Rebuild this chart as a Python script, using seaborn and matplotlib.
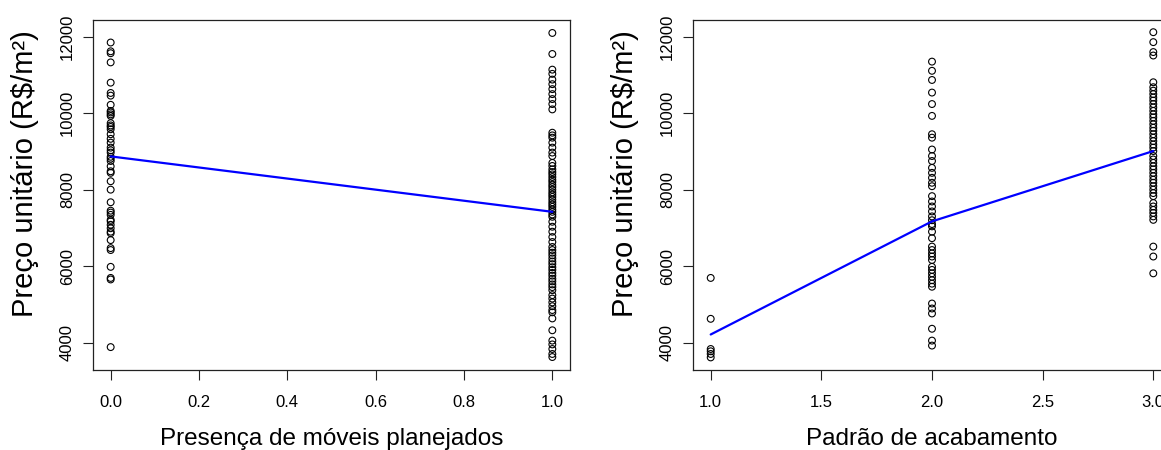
import matplotlib
matplotlib.use("Agg")
import matplotlib.pyplot as plt
import pandas as pd
import seaborn as sns

# Preço unitário (R$/m²) por presença de móveis planejados
preco_sem_moveis = [11850, 11620, 11570, 11330, 10800, 10530, 10460, 10220, 10060, 10020,
                    9970, 9930, 9740, 9680, 9640, 9580, 9450, 9330, 9230, 9100, 9030,
                    8970, 8860, 8810, 8750, 8610, 8480, 8440, 8220, 8000, 7670, 7450,
                    7400, 7340, 7210, 7170, 7080, 6990, 6900, 6860, 6680, 6470, 6420,
                    5980, 5690, 5650, 3880]
preco_com_moveis = [12100, 11550, 11140, 11030, 10880, 10760, 10630, 10500, 10370, 10240,
                    10100, 9490, 9420, 9360, 9230, 9100, 8970, 8880, 8700, 8620, 8530,
                    8460, 8400, 8330, 8260, 8200, 8130, 8070, 8000, 7930, 7870, 7810,
                    7740, 7670, 7610, 7550, 7480, 7420, 7350, 7290, 7160, 7030, 6900,
                    6760, 6630, 6500, 6420, 6350, 6280, 6200, 6120, 6050, 5970, 5900,
                    5820, 5750, 5670, 5600, 5520, 5450, 5370, 5240, 5150, 5050, 4950,
                    4850, 4790, 4630, 4320, 4050, 3950, 3830, 3700, 3620]

# Preço unitário por padrão de acabamento (1, 2, 3)
preco_padrao1 = [5690, 4620, 3830, 3770, 3700, 3610]
preco_padrao2 = [11350, 11110, 10870, 10540, 10240, 9930, 9450, 9360, 9050, 8880, 8750,
                 8570, 8440, 8310, 8180, 8090, 7830, 7690, 7560, 7430, 7300, 7200, 7100,
                 7040, 6900, 6730, 6510, 6420, 6330, 6250, 6160, 5980, 5900, 5810, 5720,
                 5630, 5540, 5460, 5020, 4890, 4760, 4360, 4050, 3920]
preco_padrao3 = [12120, 11860, 11600, 11510, 10810, 10680, 10590, 10500, 10410, 10330,
                 10240, 10150, 10060, 9970, 9890, 9800, 9710, 9620, 9540, 9450, 9360,
                 9270, 9180, 9100, 9010, 8880, 8790, 8700, 8610, 8530, 8440, 8350, 8260,
                 8180, 8090, 8000, 7910, 7830, 7650, 7560, 7470, 7390, 7300, 7210, 6510,
                 6250, 5810]

# valores ajustados (linha azul)
ajuste_moveis_x = [0, 1]
ajuste_moveis_y = [8870, 7420]
ajuste_padrao_x = [1, 2, 3]
ajuste_padrao_y = [4210, 7170, 9010]

ylabel = "Preço unitário (R$/m²)"


def main() -> None:
    moveis = pd.DataFrame({
        "x": [0] * len(preco_sem_moveis) + [1] * len(preco_com_moveis),
        "preco": preco_sem_moveis + preco_com_moveis,
    })
    padrao = pd.DataFrame({
        "x": [1] * len(preco_padrao1) + [2] * len(preco_padrao2) + [3] * len(preco_padrao3),
        "preco": preco_padrao1 + preco_padrao2 + preco_padrao3,
    })
    ajuste_moveis = pd.DataFrame({"x": ajuste_moveis_x, "preco": ajuste_moveis_y})
    ajuste_padrao = pd.DataFrame({"x": ajuste_padrao_x, "preco": ajuste_padrao_y})

    sns.set_style("white")
    plt.rcParams["font.family"] = ["Liberation Sans", "DejaVu Sans"]
    plt.rcParams["axes.edgecolor"] = "#222222"
    plt.rcParams["axes.labelcolor"] = "black"
    plt.rcParams["text.color"] = "black"
    plt.rcParams["xtick.color"] = "#222222"
    plt.rcParams["ytick.color"] = "#222222"
    plt.rcParams["xtick.labelcolor"] = "black"
    plt.rcParams["ytick.labelcolor"] = "black"

    fig = plt.figure(figsize=(11.61, 4.5), dpi=100)
    ax1 = fig.add_axes([93 / 1161, 80 / 450, 477 / 1161, 350 / 450])
    ax2 = fig.add_axes([693 / 1161, 80 / 450, 478 / 1161, 350 / 450])

    todos = moveis["preco"]
    lo, hi = todos.min(), todos.max()
    pad = 0.04 * (hi - lo)

    panels = [
        (ax1, moveis, ajuste_moveis, "Presença de móveis planejados",
         [0.0, 0.2, 0.4, 0.6, 0.8, 1.0]),
        (ax2, padrao, ajuste_padrao, "Padrão de acabamento",
         [1.0, 1.5, 2.0, 2.5, 3.0]),
    ]
    for ax, df, fit, xlabel, xticks in panels:
        sns.scatterplot(data=df, x="x", y="preco", ax=ax, marker="o",
                        facecolors="none", edgecolor="black", linewidth=0.8, s=24)
        sns.lineplot(data=fit, x="x", y="preco", ax=ax, color="#0000FF",
                     linewidth=1.6, estimator=None, sort=False)
        xmin, xmax = min(xticks), max(xticks)
        xr = xmax - xmin
        ax.set_xlim(xmin - 0.04 * xr, xmax + 0.04 * xr)
        ax.set_ylim(lo - pad, hi + pad)
        ax.set_xticks(xticks)
        ax.set_xticklabels([f"{t:.1f}" for t in xticks])
        ax.set_yticks([4000, 6000, 8000, 10000, 12000])
        ax.set_yticklabels(["4000", "6000", "8000", "10000", "12000"],
                           rotation=90, va="center")
        ax.tick_params(axis="both", direction="out", length=7, width=0.8,
                       labelsize=12, bottom=True, left=True)
        ax.tick_params(axis="x", pad=11)
        ax.tick_params(axis="y", pad=6)
        for sp in ax.spines.values():
            sp.set_linewidth(0.9)
            sp.set_visible(True)
        ax.set_xlabel(xlabel, fontsize=17.5)
        ax.set_ylabel(ylabel, fontsize=21)
        ax.xaxis.set_label_coords(0.5, -0.167)
        ax.yaxis.set_label_coords(-0.113, 0.56)
        ax.grid(False)

    fig.savefig("out.png", dpi=100)
    plt.close(fig)


if __name__ == "__main__":
    main()
